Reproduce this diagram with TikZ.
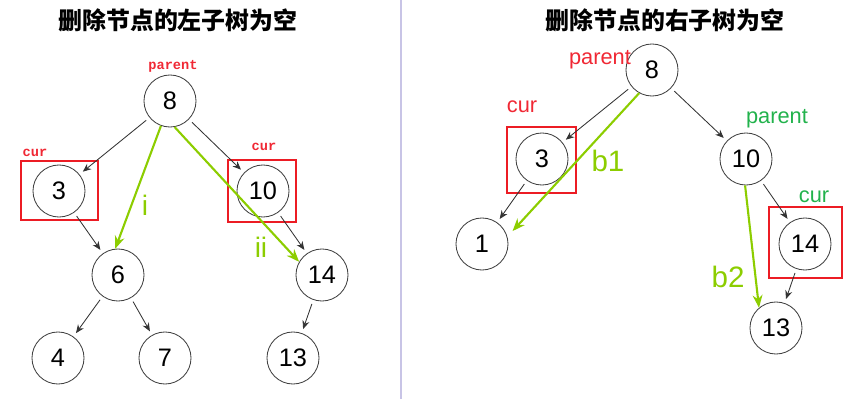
\documentclass[tikz,border=0pt]{standalone}
\usepackage{fontspec}
\usepackage{tikz}
\setmainfont{Liberation Sans}
\newfontfamily\cjkfont{Noto Sans CJK SC}
\newfontfamily\codefont{Liberation Mono}
\usetikzlibrary{
    arrows.meta,
    positioning
}
\definecolor{boxRed}{RGB}{236,28,36}
\definecolor{txtRed}{RGB}{240,40,52}
\definecolor{pathGreen}{RGB}{140,205,0}
\definecolor{tagGreen}{RGB}{34,178,76}
\definecolor{splitLine}{RGB}{200,196,230}
\tikzset{
  tnode/.style  = {draw=black!75, circle, minimum size=1.3cm, inner sep=0pt,
                   line width=0.6pt, font=\fontsize{18}{18}\selectfont},
  title/.style  = {font=\cjkfont\bfseries\fontsize{17}{17}\selectfont},
  ctag/.style   = {text=txtRed, font=\codefont\bfseries\fontsize{9.7}{10}\selectfont},
  stag/.style   = {font=\fontsize{15.5}{16}\selectfont},
  glab/.style   = {text=pathGreen, font=\fontsize{20}{20}\selectfont},
  mark box/.style = {draw=boxRed, line width=2.1pt},
  arr/.style    = {-{Stealth[length=6pt,width=5pt]}, black!80, line width=0.6pt,
                   shorten <=3pt, shorten >=3pt},
  garr/.style   = {-{Stealth[length=9pt,width=7pt]}, pathGreen, line width=1.5pt}
}

\begin{document}
\begin{tikzpicture}[x=0.025cm, y=-0.025cm]
        \useasboundingbox (0,0) rectangle (864,399);
        \draw[splitLine, line width=1.6pt] (401,0) -- (401,399);

        \node[title] (ltitle) at (178,20) {删除节点的左子树为空};
        \node[tnode] (l8) at (170,101) {8};
        \node[tnode] (l3) at (59,191) {3};
        \node[tnode] (l10) at (263,191) {10};
        \node[tnode] (l6) at (118,275) {6};
        \node[tnode] (l14) at (322,275) {14};
        \node[tnode] (l4) at (58,358) {4};
        \node[tnode] (l7) at (165,358) {7};
        \node[tnode] (l13) at (293,358) {13};
        \node[ctag] (lparent) at (173,66) {parent};
        \node[ctag] (lcur3) at (35,153) {cur};
        \node[ctag] (lcur10) at (264,147) {cur};
        \draw[mark box] (21,161) rectangle (98,220);
        \draw[mark box] (228,160) rectangle (296,222);
        \draw[arr] (l8) -- (l3);
        \draw[arr] (l8) -- (l10);
        \draw[arr] (l3) -- (l6);
        \draw[arr] (l10) -- (l14);
        \draw[arr] (l6) -- (l4);
        \draw[arr] (l6) -- (l7);
        \draw[arr] (l14) -- (l13);
        \draw[garr] (l8.250) -- (l6.96);
        \draw[garr] (l8.280) -- (l14.150);
        \node[glab] (li) at (145,205) {i};
        \node[glab] (lii) at (261,247) {ii};

        \node[title] (rtitle) at (665,20) {删除节点的右子树为空};
        \node[tnode] (r8) at (652,70) {8};
        \node[tnode] (r3) at (542,159) {3};
        \node[tnode] (r10) at (746,159) {10};
        \node[tnode] (r1) at (482,244) {1};
        \node[tnode] (r14) at (805,244) {14};
        \node[tnode] (r13) at (776,328) {13};
        \node[stag, text=txtRed] (rparent) at (600,60) {parent};
        \node[stag, text=txtRed] (rcur) at (522,107) {cur};
        \node[stag, text=tagGreen] (rparent2) at (777,119) {parent};
        \node[stag, text=tagGreen] (rcur2) at (814,197) {cur};
        \draw[mark box] (507,127) rectangle (576,193);
        \draw[mark box] (769,207) rectangle (842,278);
        \draw[arr] (r8) -- (r3);
        \draw[arr] (r8) -- (r10);
        \draw[arr] (r3) -- (r1);
        \draw[arr] (r10) -- (r14);
        \draw[arr] (r14) -- (r13);
        \draw[garr] (r8.241) -- ([shift={(6,-3)}]r1.22);
        \draw[garr] (r10.268) -- (r13.130);
        \node[glab, font=\fontsize{21}{21}\selectfont] (rb1) at (608,161) {b1};
        \node[glab, font=\fontsize{21}{21}\selectfont] (rb2) at (728,277) {b2};
\end{tikzpicture}
\end{document}
